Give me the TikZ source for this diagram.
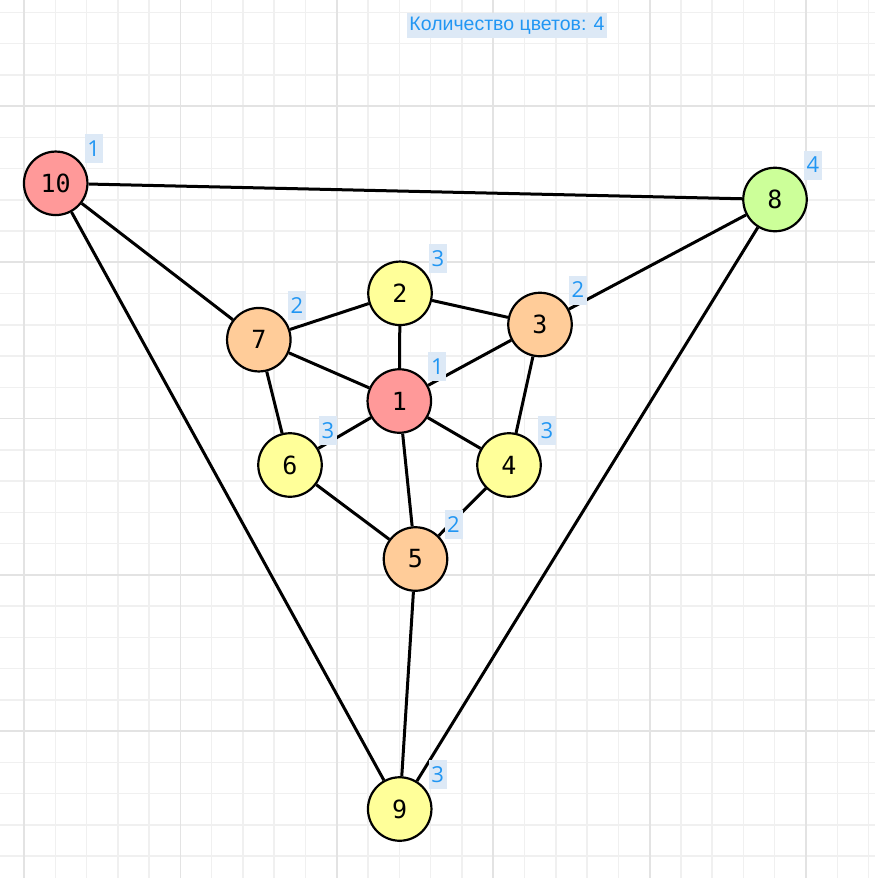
\documentclass[tikz,border=0pt]{standalone}
\usepackage{fontspec}
\setmainfont{Open Sans}
\newfontfamily\monof{DejaVu Sans Mono}
\newfontfamily\titlef{Liberation Sans}
\definecolor{gridminor}{HTML}{F0F0F0}
\definecolor{gridmajor}{HTML}{E3E3E3}
\definecolor{cred}{HTML}{FF9999}
\definecolor{corange}{HTML}{FFCC99}
\definecolor{cyellow}{HTML}{FFFF99}
\definecolor{cgreen}{HTML}{CCFF99}
\definecolor{lblbg}{HTML}{DDE9F6}
\definecolor{lbltext}{HTML}{2196F3}
\tikzset{
  vert/.style={circle, draw=black, line width=2.2pt, minimum size=63.5pt, inner sep=0pt,
    font=\monof\fontsize{25}{25}\selectfont},
  edge/.style={line width=3pt, black},
  lbl/.style={fill=lblbg, text=lbltext, inner sep=0pt, minimum width=18pt, minimum height=29pt,
    font=\fontsize{22}{22}\selectfont},
  titlebox/.style={fill=lblbg, text=lbltext, inner xsep=2pt, inner ysep=0pt, minimum height=25pt,
    font=\titlef\fontsize{19.5}{20}\selectfont}
}
\begin{document}
\begin{tikzpicture}[x=1pt,y=-1pt]
\useasboundingbox (0,0) rectangle (875,878);
\fill[white] (0,0) rectangle (875,878);
% grid minor
\foreach \i in {0,...,27} {
  \draw[gridminor, line width=1.5pt] ({24+31.28*\i},0) -- ({24+31.28*\i},878);
}
\foreach \j in {-3,...,25} {
  \draw[gridminor, line width=1.5pt] (0,{106+31.25*\j}) -- (875,{106+31.25*\j});
}
% grid major
\foreach \i in {0,...,5} {
  \draw[gridmajor, line width=1.8pt] ({24+156.4*\i},0) -- ({24+156.4*\i},878);
}
\foreach \j in {0,...,4} {
  \draw[gridmajor, line width=1.8pt] (0,{106+156.25*\j}) -- (875,{106+156.25*\j});
}
% title
\node[titlebox] (title) at (507,25.5) {Количество цветов: 4};
% vertices
\node[vert, fill=cred]    (n10) at (55.7,183.3) {10};
\node[vert, fill=cgreen]  (n8)  at (775,199.5) {8};
\node[vert, fill=cyellow] (n2)  at (400,293.3) {2};
\node[vert, fill=corange] (n3)  at (540,324.5) {3};
\node[vert, fill=corange] (n7)  at (258.8,339.7) {7};
\node[vert, fill=cred]    (n1)  at (399.3,401) {1};
\node[vert, fill=cyellow] (n6)  at (290,465) {6};
\node[vert, fill=cyellow] (n4)  at (509,465) {4};
\node[vert, fill=corange] (n5)  at (415.5,559) {5};
\node[vert, fill=cyellow] (n9)  at (399.7,809) {9};
% edges
\draw[edge] (n10) -- (n8);
\draw[edge] (n10) -- (n7);
\draw[edge] (n10) -- (n9);
\draw[edge] (n8) -- (n3);
\draw[edge] (n8) -- (n9);
\draw[edge] (n2) -- (n7);
\draw[edge] (n2) -- (n3);
\draw[edge] (n2) -- (n1);
\draw[edge] (n7) -- (n1);
\draw[edge] (n7) -- (n6);
\draw[edge] (n3) -- (n1);
\draw[edge] (n3) -- (n4);
\draw[edge] (n1) -- (n6);
\draw[edge] (n1) -- (n4);
\draw[edge] (n1) -- (n5);
\draw[edge] (n6) -- (n5);
\draw[edge] (n4) -- (n5);
\draw[edge] (n5) -- (n9);
% colour labels
\node[lbl] (l10) at ([xshift=38pt,yshift=34.5pt]n10.center) {1};
\node[lbl] (l8)  at ([xshift=38pt,yshift=34.5pt]n8.center) {4};
\node[lbl] (l2)  at ([xshift=38pt,yshift=34.5pt]n2.center) {3};
\node[lbl] (l3)  at ([xshift=38pt,yshift=34.5pt]n3.center) {2};
\node[lbl] (l7)  at ([xshift=38pt,yshift=34.5pt]n7.center) {2};
\node[lbl] (l1)  at ([xshift=38pt,yshift=34.5pt]n1.center) {1};
\node[lbl] (l6)  at ([xshift=38pt,yshift=34.5pt]n6.center) {3};
\node[lbl] (l4)  at ([xshift=38pt,yshift=34.5pt]n4.center) {3};
\node[lbl] (l5)  at ([xshift=38pt,yshift=34.5pt]n5.center) {2};
\node[lbl] (l9)  at ([xshift=38pt,yshift=34.5pt]n9.center) {3};
\end{tikzpicture}
\end{document}
